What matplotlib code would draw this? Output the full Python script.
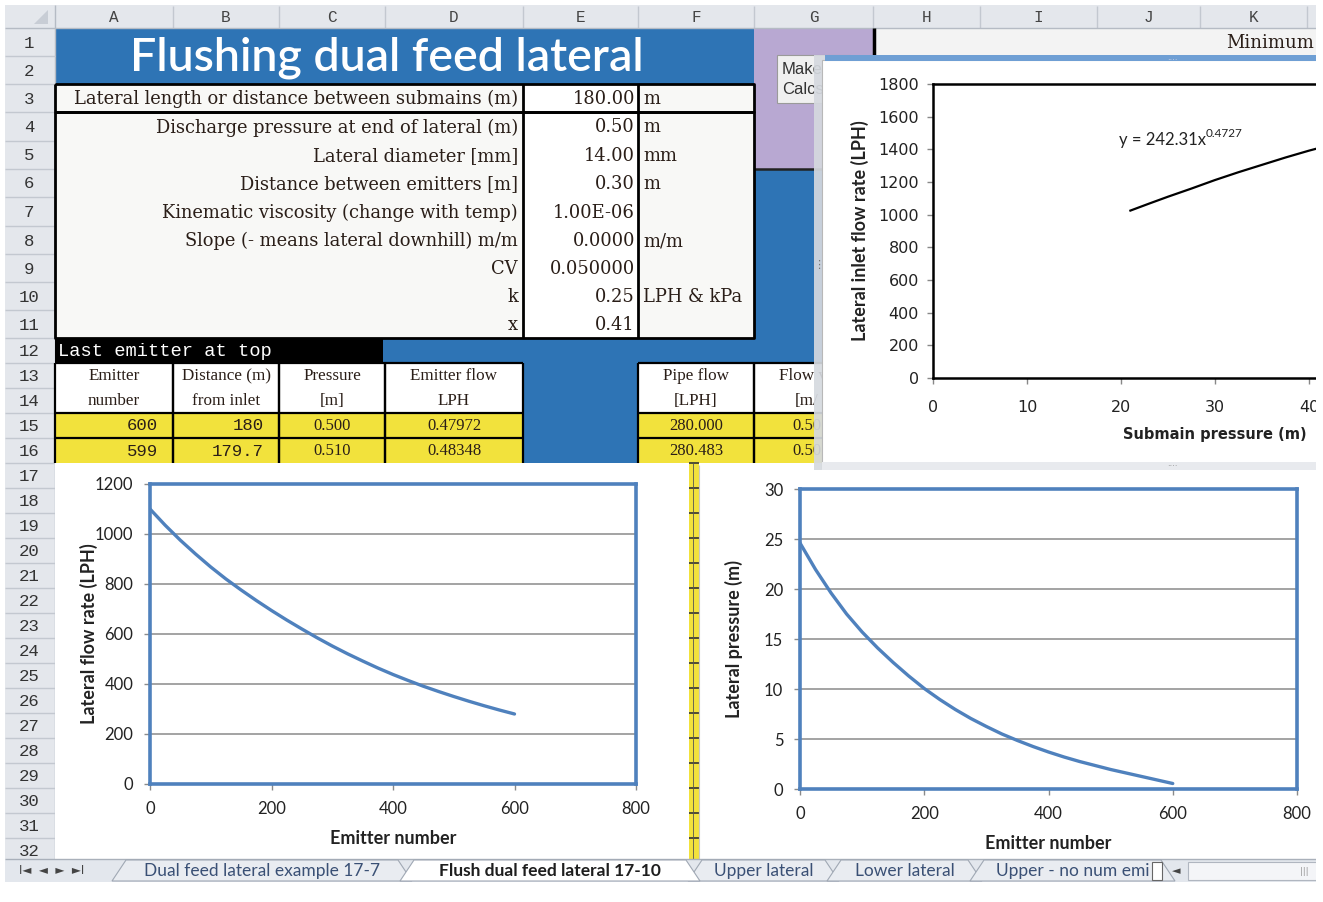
import matplotlib
matplotlib.use("Agg")
import matplotlib.pyplot as plt
from matplotlib.patches import Rectangle, Polygon

W, H = 1323, 902

# ---------------- data ----------------
title = "Flushing dual feed lateral"
col_letters = ["A", "B", "C", "D", "E", "F", "G", "H", "I", "J", "K"]
row_numbers = list(range(1, 33))
input_labels = ["Lateral length or distance between submains (m)",
                "Discharge pressure at end of lateral (m)",
                "Lateral diameter [mm]",
                "Distance between emitters [m]",
                "Kinematic viscosity (change with temp)",
                "Slope (- means lateral downhill) m/m",
                "CV", "k", "x"]
input_values = ["180.00", "0.50", "14.00", "0.30", "1.00E-06", "0.0000", "0.050000", "0.25", "0.41"]
input_units = ["m", "m", "mm", "m", "", "m/m", "", "LPH & kPa", ""]
table_note = "Last emitter at top"
table_headers = [("Emitter", "number"), ("Distance (m)", "from inlet"), ("Pressure", "[m]"),
                 ("Emitter flow", "LPH"), None, ("Pipe flow", "[LPH]"), ("Flow ve", "[m/")]
table_row15 = ["600", "180", "0.500", "0.47972", "", "280.000", "0.50"]
table_row16 = ["599", "179.7", "0.510", "0.48348", "", "280.483", "0.50"]
button_text = ["Make", "Calcs"]
corner_text = "Minimum"

emitter_number = [0, 25, 50, 75, 100, 125, 150, 175, 200, 225, 250, 275, 300,
                  325, 350, 375, 400, 425, 450, 475, 500, 525, 550, 575, 600]
lateral_flow = [1100, 1035, 975, 920, 868, 820, 776, 734, 694, 656, 620, 585, 552,
                521, 492, 464, 438, 414, 391, 370, 350, 331, 313, 296, 280]
lateral_pressure = [24.6, 21.95, 19.6, 17.5, 15.7, 14.1, 12.65, 11.3, 10.05, 8.95, 7.95, 7.05, 6.25,
                    5.5, 4.85, 4.25, 3.7, 3.2, 2.75, 2.35, 1.95, 1.6, 1.25, 0.9, 0.55]

submain_pressure = [21, 23, 25, 27.5, 30, 32.5, 35, 37.5, 40, 42.5, 45]
inlet_flow = [1025, 1068, 1110, 1160, 1212, 1260, 1305, 1350, 1392, 1430, 1465]
trend_label = ("y = 242.31x", "0.4727")

sheet_tabs = ["Dual feed lateral example 17-7", "Flush dual feed lateral 17-10",
              "Upper lateral", "Lower lateral", "Upper - no num emi"]

# ---------------- style ----------------
XL_BLUE = "#2E74B5"
PURPLE = "#B8A8D2"
YELLOW = "#F2E23C"
HDR = "#E4E7EC"
HDR_LINE = "#C3C8D0"
CELL = "#F8F8F6"
TXT = "#2A1E18"
CH_BLUE = "#4F81BD"
SERIF = "DejaVu Serif"
MONO = "Liberation Mono"
SANS = "Lato"

col_bounds = [55, 173, 279, 385, 523, 638, 754, 873, 980, 1097, 1200, 1307]
row_tops = [28, 56, 84, 112, 141, 169, 197, 226, 254, 282, 310, 338, 363, 388, 413, 438]
row_tops += [463 + 25 * i for i in range(16)]
row_tops += [863]

fig = plt.figure(figsize=(W / 100, H / 100), dpi=100)
fig.patch.set_facecolor("white")
bg = fig.add_axes([0, 0, 1, 1], zorder=0)
bg.set_xlim(0, W)
bg.set_ylim(H, 0)
bg.axis("off")


def rect(x0, y0, x1, y1, fc, ec="none", lw=0, z=1, alpha=1):
    bg.add_patch(Rectangle((x0, y0), x1 - x0, y1 - y0, facecolor=fc, edgecolor=ec,
                           linewidth=lw, zorder=z, alpha=alpha))


def line(xs, ys, c="black", lw=1.8, z=3):
    bg.plot(xs, ys, color=c, lw=lw, zorder=z, solid_capstyle="butt")


# headers
rect(5, 5, W, 28, HDR, z=1)
rect(5, 28, 55, 863, HDR, z=1)
for i, L in enumerate(col_letters):
    x0, x1 = col_bounds[i], col_bounds[i + 1]
    bg.text((x0 + x1) / 2, 17, L, ha="center", va="center", fontsize=11.5, family=MONO, color="#444", zorder=2)
for x in col_bounds[1:]:
    line([x, x], [6, 28], HDR_LINE, 1, 2)
line([5, W], [28, 28], "#B5BBC4", 1, 2)
line([55, 55], [5, 863], "#B5BBC4", 1, 2)
bg.add_patch(Polygon([[48, 10], [48, 24], [34, 24]], closed=True, facecolor="#C8CDD5", edgecolor="none", zorder=2))
for i, r in enumerate(row_numbers):
    y0, y1 = row_tops[i], row_tops[i + 1]
    bg.text(29, (y0 + y1) / 2 + 1, str(r), ha="center", va="center", fontsize=12.5, family=MONO, color="#333", zorder=2)
    line([5, 55], [y1, y1], HDR_LINE, 1, 2)

# title band
rect(55, 28, 754, 84, XL_BLUE, z=1)
bg.text(387, 58, title, ha="center", va="center", fontsize=33.5, family="Lato", fontweight="semibold",
        color="white", zorder=3)

# purple + blue areas on the right
rect(754, 28, 873, 169, PURPLE, z=1)
rect(754, 169, 830, 463, XL_BLUE, z=1)
line([754, 873], [169, 169], "#222", 1.8, 3)
rect(873, 28, W, 56, "#F3F3F3", z=1)
line([874, 874], [28, 58], "black", 2.5, 3)
bg.text(1314, 43, corner_text, ha="right", va="center", fontsize=13, family=SERIF, color=TXT, zorder=2)

# button (behind the chart window)
rect(777, 55, 850, 103, "#F0F0F0", ec="#9A9A9A", lw=0.8, z=2)
bg.text(782, 69, button_text[0], ha="left", va="center", fontsize=12, family="Liberation Sans", color="#333", zorder=2)
bg.text(782, 90, button_text[1], ha="left", va="center", fontsize=12, family="Liberation Sans", color="#333", zorder=2)

# input rows 3..11
rect(55, 84, 754, 338, CELL, z=1)
rect(523, 84, 638, 338, "white", z=1)
for i in range(9):
    y0, y1 = row_tops[2 + i], row_tops[3 + i]
    yc = (y0 + y1) / 2 + 1
    bg.text(518, yc, input_labels[i], ha="right", va="center", fontsize=12.9, family=SERIF, color=TXT, zorder=3)
    bg.text(635, yc, input_values[i], ha="right", va="center", fontsize=12.9, family=SERIF, color=TXT, zorder=3)
    bg.text(643, yc, input_units[i], ha="left", va="center", fontsize=12.9, family=SERIF, color=TXT, zorder=3)
for (y0, y1) in [(84, 112), (112, 338)]:
    line([55, 754, 754, 55, 55], [y0, y0, y1, y1, y0], "black", 2.0, 4)
    line([523, 523], [y0, y1], "black", 2.0, 4)
    line([638, 638], [y0, y1], "black", 2.0, 4)

# row 12
rect(55, 338, 830, 463, XL_BLUE, z=1)
rect(55, 338, 383, 363, "black", z=2)
bg.text(58, 351, table_note, ha="left", va="center", fontsize=13.5, family=MONO, color="white", zorder=3)

# table rows 13..16
tcols = [(55, 173), (173, 279), (279, 385), (385, 523), None, (638, 754), (754, 860)]
for j, c in enumerate(tcols):
    if c is None:
        continue
    x0, x1 = c
    rect(x0, 363, x1, 413, "white", z=2)
    rect(x0, 413, x1, 463, YELLOW, z=2)
    h = table_headers[j]
    xc = (x0 + x1) / 2
    bg.text(xc, 376, h[0], ha="center", va="center", fontsize=12.3, family="Liberation Serif", color=TXT, zorder=3)
    bg.text(xc, 401, h[1], ha="center", va="center", fontsize=12.3, family="Liberation Serif", color=TXT, zorder=3)
    for yv, vals in [(426, table_row15), (451, table_row16)]:
        if j < 2:
            bg.text(x1 - 15, yv, vals[j], ha="right", va="center", fontsize=12.5, family=MONO, color=TXT, zorder=3)
        else:
            bg.text(xc, yv, vals[j], ha="center", va="center", fontsize=12, family="Liberation Serif", color=TXT, zorder=3)
    for yy in [363, 413, 438]:
        line([x0, x1], [yy, yy], "black", 1.6, 4)
    line([x0, x0], [363, 463], "black", 1.6, 4)
    line([x1, x1], [363, 463], "black", 1.6, 4)

# yellow strip between the two lower charts
rect(55, 463, 700, 860, "white", z=2)
rect(689, 463, 699, 860, YELLOW, z=2)
for yy in row_tops[16:]:
    line([689, 699], [yy, yy], "#333", 1.2, 3)
line([693, 693], [463, 860], "#555", 0.6, 3)
rect(699, 463, 1318, 860, "white", z=2)
line([699, 699], [465, 860], "#C8C8C8", 0.8, 3)

# top-right chart window
rect(814, 55, 825, 470, "#D5D9DF", z=5, alpha=0.92)
rect(822, 60, W, 468, "white", ec="#B8B8B8", lw=0.8, z=6)
rect(822, 462, W, 470, "#E8EAEE", z=6)
rect(825, 55, W, 61, "#6F9FD4", z=6)
bg.text(1172, 57, "....", ha="center", va="center", fontsize=6, color="#DDE", zorder=7)
bg.text(1172, 464, "....", ha="center", va="center", fontsize=6, color="#888", zorder=7)
bg.text(819, 265, "⋮", ha="center", va="center", fontsize=8, color="#777", zorder=7)

# tab bar
rect(5, 859, W, 882, "#E3E7ED", z=8)
line([5, W], [859, 859], "#A9B0BA", 1, 9)
bg.text(52, 870.5, "I◄  ◄  ►  ►I", ha="center", va="center", fontsize=8.5, family="DejaVu Sans", color="#444", zorder=9)
tab_spans = [(112, 400), (400, 688), (688, 827), (827, 970), (970, 1163)]
for k, (x0, x1) in enumerate(tab_spans):
    active = (k == 1)
    poly = [[x0, 881], [x0 + 14, 860], [x1 - 2, 860], [x1 + 12, 881]]
    bg.add_patch(Polygon(poly, closed=True, facecolor="white" if active else "#E9ECF1",
                         edgecolor="#A0A8B4", lw=0.8, zorder=9 if not active else 10))
    bg.text((x0 + x1) / 2 + 6, 871, sheet_tabs[k], ha="center", va="center",
            fontsize=12.5, family=SANS, fontweight="bold" if active else "normal",
            color="#1E1E1E" if active else "#3A5075", zorder=11)
rect(1152, 862, 1162, 880, "white", ec="#666", lw=0.8, z=12)
bg.text(1176, 871, "◄", ha="center", va="center", fontsize=8, family="DejaVu Sans", color="#444", zorder=12)
rect(1188, 862, 1318, 880, "#F4F5F8", ec="#B0B6C0", lw=0.8, z=12)
bg.text(1304, 871, "|||", ha="center", va="center", fontsize=6, color="#999", zorder=12)


def fax(x0, y0, x1, y1, z=2):
    return fig.add_axes([x0 / W, 1 - y1 / H, (x1 - x0) / W, (y1 - y0) / H], zorder=z)


def style_blue(ax, ylim, yticks, ylabel, ylab_x):
    ax.set_xlim(0, 800)
    ax.set_ylim(*ylim)
    ax.set_xticks([0, 200, 400, 600, 800])
    ax.set_yticks(yticks)
    ax.yaxis.grid(True, color="#A3A3A3", lw=1.4)
    ax.set_axisbelow(True)
    for s in ax.spines.values():
        s.set_color(CH_BLUE)
        s.set_linewidth(2.6)
    ax.tick_params(axis="both", direction="out", length=4, width=1, color="#8A8A8A",
                   labelsize=12, labelcolor="#222", pad=8)
    for lab in ax.get_xticklabels() + ax.get_yticklabels():
        lab.set_family(SANS)
    ax.set_xlabel("Emitter number", fontsize=13, fontweight="bold", family=SANS, color="#222")
    ax.set_ylabel(ylabel, fontsize=13, fontweight="bold", family=SANS, color="#222")
    ax.xaxis.set_label_coords(0.5, -0.153)
    ax.yaxis.set_label_coords(ylab_x, 0.5)


# lower-left chart
ax1 = fax(150, 484, 636, 784)
ax1.plot(emitter_number, lateral_flow, color=CH_BLUE, lw=2.4, solid_capstyle="round", solid_joinstyle="round")
style_blue(ax1, (0, 1200), [0, 200, 400, 600, 800, 1000, 1200], "Lateral flow rate (LPH)", -0.108)

# lower-right chart
ax2 = fax(800, 489, 1297, 789)
ax2.plot(emitter_number, lateral_pressure, color=CH_BLUE, lw=2.4, solid_capstyle="round", solid_joinstyle="round")
style_blue(ax2, (0, 30), [0, 5, 10, 15, 20, 25, 30], "Lateral pressure (m)", -0.115)

# top-right chart (partially outside the figure)
ax3 = fax(933, 84, 1497, 378, z=7)
ax3.plot(submain_pressure, inlet_flow, color="black", lw=1.6)
ax3.set_xlim(0, 60)
ax3.set_ylim(0, 1800)
ax3.set_xticks(range(0, 50, 10))
ax3.set_yticks(range(0, 2000, 200))
for s in ax3.spines.values():
    s.set_color("black")
    s.set_linewidth(1.8)
ax3.tick_params(axis="both", direction="out", length=4, width=1, color="#888",
                labelsize=11.5, labelcolor="#222")
ax3.tick_params(axis="x", pad=12)
ax3.tick_params(axis="y", pad=6)
ax3.set_xlabel("Submain pressure (m)", fontsize=10.5, fontweight="bold", family="DejaVu Sans", color="#222")
ax3.set_ylabel("Lateral inlet flow rate (LPH)", fontsize=13, fontweight="bold", family=SANS, color="#222")
ax3.xaxis.set_label_coords(0.5, -0.165)
ax3.yaxis.set_label_coords(-0.114, 0.5)
ax3.text(0.329, 0.81, trend_label[0], transform=ax3.transAxes, fontsize=12, family=SANS,
         color="#222", ha="left", va="center")
ax3.text(0.484, 0.832, trend_label[1], transform=ax3.transAxes, fontsize=8.5, family=SANS,
         color="#222", ha="left", va="center")

# outer white margins
ov = fig.add_axes([0, 0, 1, 1], zorder=20)
ov.set_xlim(0, W)
ov.set_ylim(H, 0)
ov.axis("off")
ov.patch.set_visible(False)
for (x0, y0, x1, y1) in [(0, 0, W, 5), (0, 0, 5, H), (0, 882, W, H), (1316, 0, W, H)]:
    ov.add_patch(Rectangle((x0, y0), x1 - x0, y1 - y0, facecolor="white", edgecolor="none"))

fig.savefig("out.png", dpi=100)
